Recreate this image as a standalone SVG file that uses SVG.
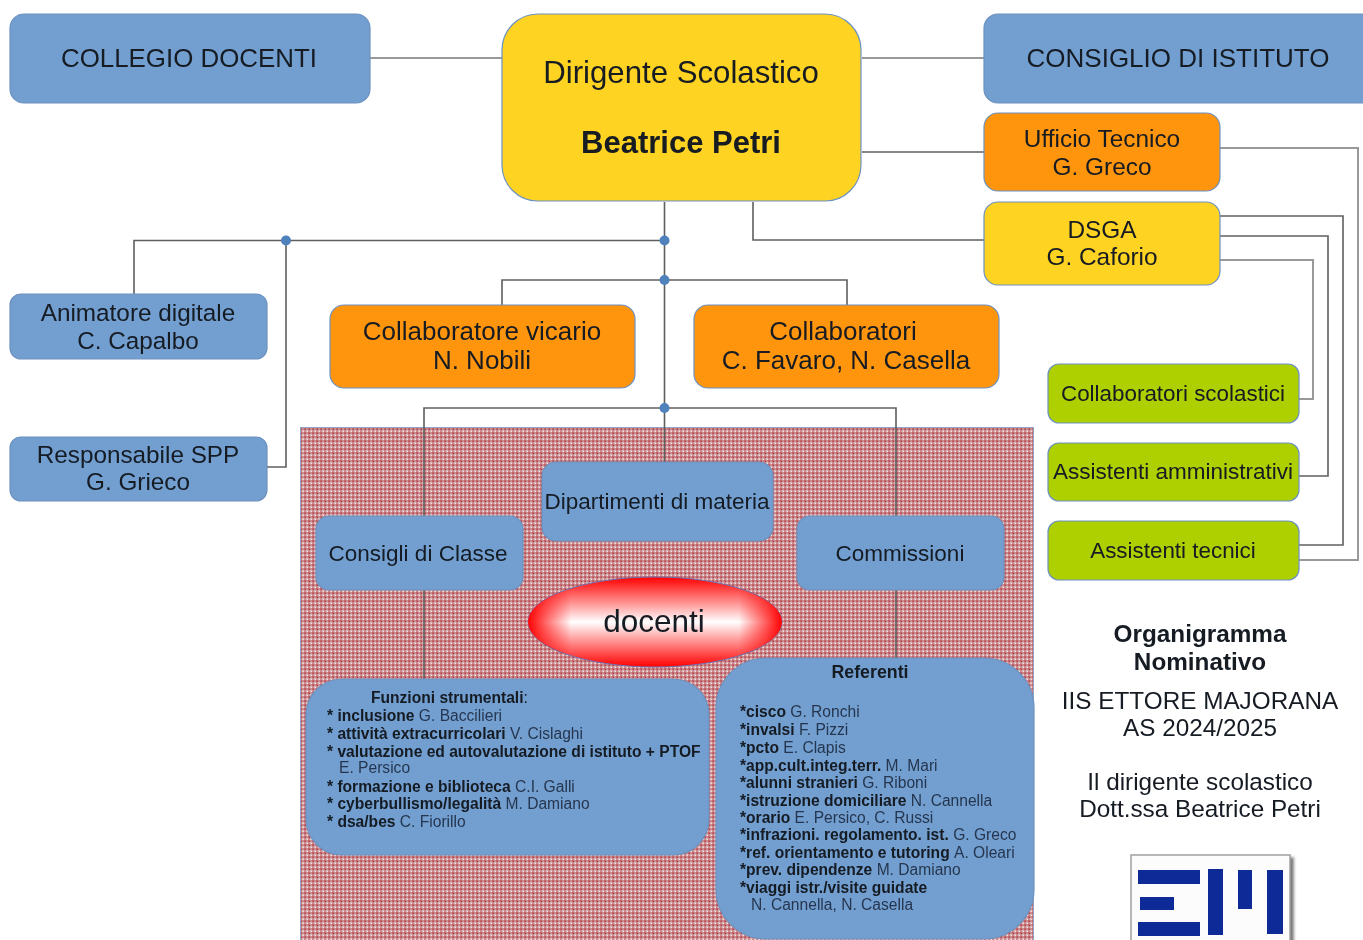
<svg xmlns="http://www.w3.org/2000/svg" width="1363" height="940" viewBox="0 0 1363 940">
<style>
text{font-family:"Liberation Sans",Arial,sans-serif;fill:#141a24;text-anchor:middle}
.l{text-anchor:start}
.b{font-weight:bold}
.n{stroke:#6d92c0;stroke-width:1.2}
.blue{fill:#729fcf}.yel{fill:#ffd320}.ora{fill:#ff950e}.gre{fill:#aecf00}
.c{fill:none;stroke:#5f5f5f;stroke-width:1.6}
.c2{fill:none;stroke:#999;stroke-width:2}
.s{font-size:15.6px}
.k tspan{fill:#26364f;font-weight:normal}
</style>
<defs>
<pattern id="hatch" width="4" height="4" patternUnits="userSpaceOnUse">
<rect width="4" height="4" fill="#cb8a8e"/>
<rect x="0" y="0" width="2" height="2" fill="#c0666c"/>
<rect x="2" y="2" width="2" height="2" fill="#dcb4b6"/>
<rect x="1" y="1" width="1" height="1" fill="#ae3a42"/>
<rect x="3" y="3" width="1" height="1" fill="#f2e2e2"/>
</pattern>
<linearGradient id="gv" x1="0" y1="0" x2="0" y2="1">
<stop offset="0" stop-color="#ff0000"/><stop offset=".5" stop-color="#ffffff"/><stop offset="1" stop-color="#ff0000"/>
</linearGradient>
<linearGradient id="gh" x1="0" y1="0" x2="1" y2="0">
<stop offset="0" stop-color="#ff0000"/><stop offset=".17" stop-color="#ff0000" stop-opacity="0"/><stop offset=".83" stop-color="#ff0000" stop-opacity="0"/><stop offset="1" stop-color="#ff0000"/>
</linearGradient>
<filter id="soft" x="-2%" y="-2%" width="104%" height="104%"><feGaussianBlur stdDeviation="0.5"/></filter>
<filter id="shadow" x="-10%" y="-10%" width="120%" height="120%"><feDropShadow dx="3" dy="3" stdDeviation="1.5" flood-color="#777"/></filter>
</defs>
<rect width="1363" height="940" fill="#ffffff"/>
<g filter="url(#soft)">
<rect id="area" x="300.500" y="427.500" width="733" height="520" fill="url(#hatch)" stroke="#8fa5c8" stroke-width="1"/>
<g id="connectors">
<path class="c2" d="M370 58H502M862 58H984"/>
<path class="c" d="M862 152H984M664.500 202V408M753 202V240H984M134 294V240.500H664M286 240V467H267M502 305V280H847V305M424 516V408H896V516M664.500 408V462M424 590V680M896 590V660"/>
<path class="c2" d="M1220 148H1358V560H1299M1220 260H1313V399H1299"/>
<path class="c" d="M1220 216H1343V545H1299M1220 236H1328V476H1299"/>
<circle cx="286" cy="240.500" r="5" fill="#4f81bd"/>
<circle cx="664.500" cy="240.500" r="5" fill="#4f81bd"/>
<circle cx="664.500" cy="280" r="5" fill="#4f81bd"/>
<circle cx="664.500" cy="408" r="5" fill="#4f81bd"/>
</g>
<g id="collegio"><rect class="n blue" x="10" y="14" width="360" height="89" rx="14"/><text x="189" y="67" font-size="25.900">COLLEGIO DOCENTI</text></g>
<g id="dirigente"><rect class="n yel" x="502" y="14" width="359" height="187" rx="36"/><text x="681" y="83" font-size="31.200">Dirigente Scolastico</text><text class="b" x="681" y="153" font-size="31">Beatrice Petri</text></g>
<g id="consiglio"><rect class="n blue" x="984" y="14" width="392" height="89" rx="14"/><text x="1178" y="67" font-size="26">CONSIGLIO DI ISTITUTO</text></g>
<g id="ufficio"><rect class="n ora" x="984" y="113" width="236" height="78" rx="14"/><text x="1102" y="147" font-size="24.400">Ufficio Tecnico</text><text x="1102" y="175" font-size="24.400">G. Greco</text></g>
<g id="dsga"><rect class="n yel" x="984" y="202" width="236" height="83" rx="14"/><text x="1102" y="238" font-size="24.400">DSGA</text><text x="1102" y="265" font-size="24.400">G. Caforio</text></g>
<g id="animatore"><rect class="n blue" x="10" y="294" width="257" height="65" rx="11"/><text x="138" y="321" font-size="24.300">Animatore digitale</text><text x="138" y="349" font-size="24.300">C. Capalbo</text></g>
<g id="responsabile"><rect class="n blue" x="10" y="437" width="257" height="64" rx="11"/><text x="138" y="463" font-size="24.300">Responsabile SPP</text><text x="138" y="490" font-size="24.300">G. Grieco</text></g>
<g id="vicario"><rect class="n ora" x="330" y="305" width="305" height="83" rx="14"/><text x="482" y="340" font-size="26">Collaboratore vicario</text><text x="482" y="369" font-size="26">N. Nobili</text></g>
<g id="collaboratori"><rect class="n ora" x="694" y="305" width="305" height="83" rx="14"/><text x="843" y="340" font-size="26">Collaboratori</text><text x="846" y="369" font-size="26">C. Favaro, N. Casella</text></g>
<g id="coll-scol"><rect class="n gre" x="1048" y="364" width="251" height="59" rx="11"/><text x="1173" y="401" font-size="22.400">Collaboratori scolastici</text></g>
<g id="ass-amm"><rect class="n gre" x="1048" y="443" width="251" height="58" rx="11"/><text x="1173" y="479" font-size="22.500">Assistenti amministrativi</text></g>
<g id="ass-tec"><rect class="n gre" x="1048" y="521" width="251" height="59" rx="11"/><text x="1173" y="558" font-size="22.400">Assistenti tecnici</text></g>
<g id="dipartimenti"><rect class="n blue" x="542" y="462" width="231" height="79" rx="14"/><text x="657" y="509" font-size="22.500">Dipartimenti di materia</text></g>
<g id="consigli"><rect class="n blue" x="316" y="516" width="207" height="74" rx="13"/><text x="418" y="561" font-size="22.500">Consigli di Classe</text></g>
<g id="commissioni"><rect class="n blue" x="797" y="516" width="207" height="74" rx="13"/><text x="900" y="561" font-size="22.500">Commissioni</text></g>
<g id="docenti"><ellipse cx="655" cy="622" rx="127" ry="45" fill="url(#gv)" stroke="#6d70b0"/><ellipse cx="655" cy="622" rx="127" ry="45" fill="url(#gh)"/><text x="654" y="632" font-size="31.500">docenti</text></g>
<g id="funzioni"><rect class="n blue" x="306" y="679" width="403" height="176" rx="36"/>
<text class="s b l" x="371" y="703">Funzioni strumentali<tspan font-weight="normal">:</tspan></text>
<text class="s l k b" x="327" y="721">* inclusione <tspan>G. Baccilieri</tspan></text>
<text class="s l k b" x="327" y="739">* attività extracurricolari <tspan>V. Cislaghi</tspan></text>
<text class="s l k b" x="327" y="757">* valutazione ed autovalutazione di istituto + PTOF</text>
<text class="s l k" x="339" y="773"><tspan>E. Persico</tspan></text>
<text class="s l k b" x="327" y="792">* formazione e biblioteca <tspan>C.I. Galli</tspan></text>
<text class="s l k b" x="327" y="809">* cyberbullismo/legalità <tspan>M. Damiano</tspan></text>
<text class="s l k b" x="327" y="827">* dsa/bes <tspan>C. Fiorillo</tspan></text>
</g>
<g id="referenti"><rect class="n blue" x="716" y="658" width="318" height="281" rx="50"/>
<text class="b" x="870" y="678" font-size="17.800">Referenti</text>
<text class="s l k b" x="740" y="717">*cisco <tspan>G. Ronchi</tspan></text>
<text class="s l k b" x="740" y="735">*invalsi <tspan>F. Pizzi</tspan></text>
<text class="s l k b" x="740" y="753">*pcto <tspan>E. Clapis</tspan></text>
<text class="s l k b" x="740" y="771">*app.cult.integ.terr. <tspan>M. Mari</tspan></text>
<text class="s l k b" x="740" y="788">*alunni stranieri <tspan>G. Riboni</tspan></text>
<text class="s l k b" x="740" y="806">*istruzione domiciliare <tspan>N. Cannella</tspan></text>
<text class="s l k b" x="740" y="823">*orario <tspan>E. Persico, C. Russi</tspan></text>
<text class="s l k b" x="740" y="840">*infrazioni. regolamento. ist. <tspan>G. Greco</tspan></text>
<text class="s l k b" x="740" y="858">*ref. orientamento e tutoring <tspan>A. Oleari</tspan></text>
<text class="s l k b" x="740" y="875">*prev. dipendenze <tspan>M. Damiano</tspan></text>
<text class="s l k b" x="740" y="893">*viaggi istr./visite guidate</text>
<text class="s l k" x="751" y="910"><tspan>N. Cannella, N. Casella</tspan></text>
</g>
<g id="title">
<text class="b" x="1200" y="642" font-size="24.300">Organigramma</text>
<text class="b" x="1200" y="670" font-size="24.300">Nominativo</text>
<text x="1200" y="709" font-size="24.300">IIS ETTORE MAJORANA</text>
<text x="1200" y="736" font-size="24.300">AS 2024/2025</text>
<text x="1200" y="790" font-size="24.300">Il dirigente scolastico</text>
<text x="1200" y="817" font-size="24.300">Dott.ssa Beatrice Petri</text>
</g>
<g id="logo"><rect x="1131" y="855" width="159" height="95" fill="#fbfcfb" stroke="#a0a0a0" stroke-width="1.500" filter="url(#shadow)"/>
<g fill="#0a2c96"><rect x="1138" y="870" width="62" height="14"/><rect x="1140" y="897" width="34" height="13"/><rect x="1138" y="922" width="62" height="14"/><rect x="1208" y="869" width="15" height="66"/><rect x="1238" y="870" width="14" height="39"/><rect x="1267" y="870" width="16" height="64"/></g></g>
</g>
</svg>
